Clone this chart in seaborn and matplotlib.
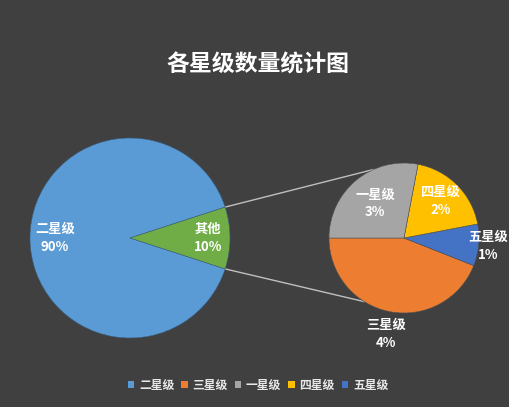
import numpy as np
import matplotlib
matplotlib.use("Agg")
import matplotlib.pyplot as plt
from matplotlib.patches import Patch
import seaborn as sns

# ---- data ----
title = "各星级数量统计图"
main_labels = ["二星级", "其他"]
main_values = [90, 10]
main_pct = ["90%", "10%"]

sub_labels = ["三星级", "五星级", "四星级", "一星级"]
sub_values = [4.4, 0.9, 1.9, 2.8]
sub_pct = ["4%", "1%", "2%", "3%"]

legend_labels = ["二星级", "三星级", "一星级", "四星级", "五星级"]

# ---- style ----
sns.set_style("dark")
plt.rcParams['font.family'] = ['Noto Sans CJK SC', 'DejaVu Sans']

BG = "#404040"
blue, green = "#5B9BD5", "#70AD47"
orange, dblue, yellow, gray = "#ED7D31", "#4472C4", "#FFC000", "#A5A5A5"
color_map = {"二星级": blue, "其他": green, "三星级": orange, "五星级": dblue,
             "四星级": yellow, "一星级": gray}

W, H = 510, 407
fig = plt.figure(figsize=(W / 100, H / 100), dpi=100, facecolor=BG)
ax = fig.add_axes([0, 0, 1, 1])
ax.set_facecolor(BG)

c1, r1 = (130, H - 238), 100
c2, r2 = (404, H - 238), 75

main_start = 18
ax.pie(main_values, startangle=main_start, counterclock=True,
       colors=[color_map[l] for l in main_labels], center=c1, radius=r1,
       wedgeprops=dict(edgecolor="#3a5f80", linewidth=0.4), frame=True)
sub_start = 180
ax.pie(sub_values, startangle=sub_start, counterclock=True,
       colors=[color_map[l] for l in sub_labels], center=c2, radius=r2,
       wedgeprops=dict(edgecolor="#505050", linewidth=0.4), frame=True)
ax.set_xlim(0, W)
ax.set_ylim(0, H)
ax.set_aspect("equal")
ax.axis("off")

txt = dict(color="white", fontsize=9.5, fontweight="bold", ha="center",
           va="center", linespacing=1.35)

def label_pos(center, r, start, values, dists):
    tot = sum(values)
    ang = start
    out = []
    for v, d in zip(values, dists):
        span = 360 * v / tot
        mid = np.deg2rad(ang + span / 2)
        out.append((center[0] + d * r * np.cos(mid), center[1] + d * r * np.sin(mid)))
        ang += span
    return out

for (x, y), l, p in zip(label_pos(c1, r1, main_start, main_values, [0.75, 0.78]),
                        main_labels, main_pct):
    ax.text(x, y, f"{l}\n{p}", **txt)

sub_dist = [1.3, 1.13, 0.7, 0.6]
sub_pos = label_pos(c2, r2, sub_start, sub_values, sub_dist)
for (x, y), l, p in zip(sub_pos, sub_labels, sub_pct):
    ax.text(x, y, f"{l}\n{p}", **txt)

# connector lines from the "其他" wedge to the secondary pie
half = 360 * main_values[1] / sum(main_values) / 2
for a1, a2 in [(half, 114), (-half, 238)]:
    p1 = (c1[0] + r1 * np.cos(np.deg2rad(a1)), c1[1] + r1 * np.sin(np.deg2rad(a1)))
    p2 = (c2[0] + r2 * np.cos(np.deg2rad(a2)), c2[1] + r2 * np.sin(np.deg2rad(a2)))
    ax.plot([p1[0], p2[0]], [p1[1], p2[1]], color="#bfbfbf", lw=1, zorder=0)

fig.text(0.506, 1 - 65 / H, title, color="white", fontsize=16.5, fontweight="bold",
         ha="center", va="center")

handles = [Patch(facecolor=color_map[l], edgecolor="none") for l in legend_labels]
leg = fig.legend(handles, legend_labels, loc="center", bbox_to_anchor=(0.506, 1 - 385 / H),
                 ncol=5, frameon=False, fontsize=8.5, handlelength=0.55, handleheight=0.55,
                 handletextpad=0.4, columnspacing=0.6)
for t in leg.get_texts():
    t.set_color("#e8e8e8")
    t.set_fontweight("bold")

fig.savefig("out.png", dpi=100, facecolor=BG)
